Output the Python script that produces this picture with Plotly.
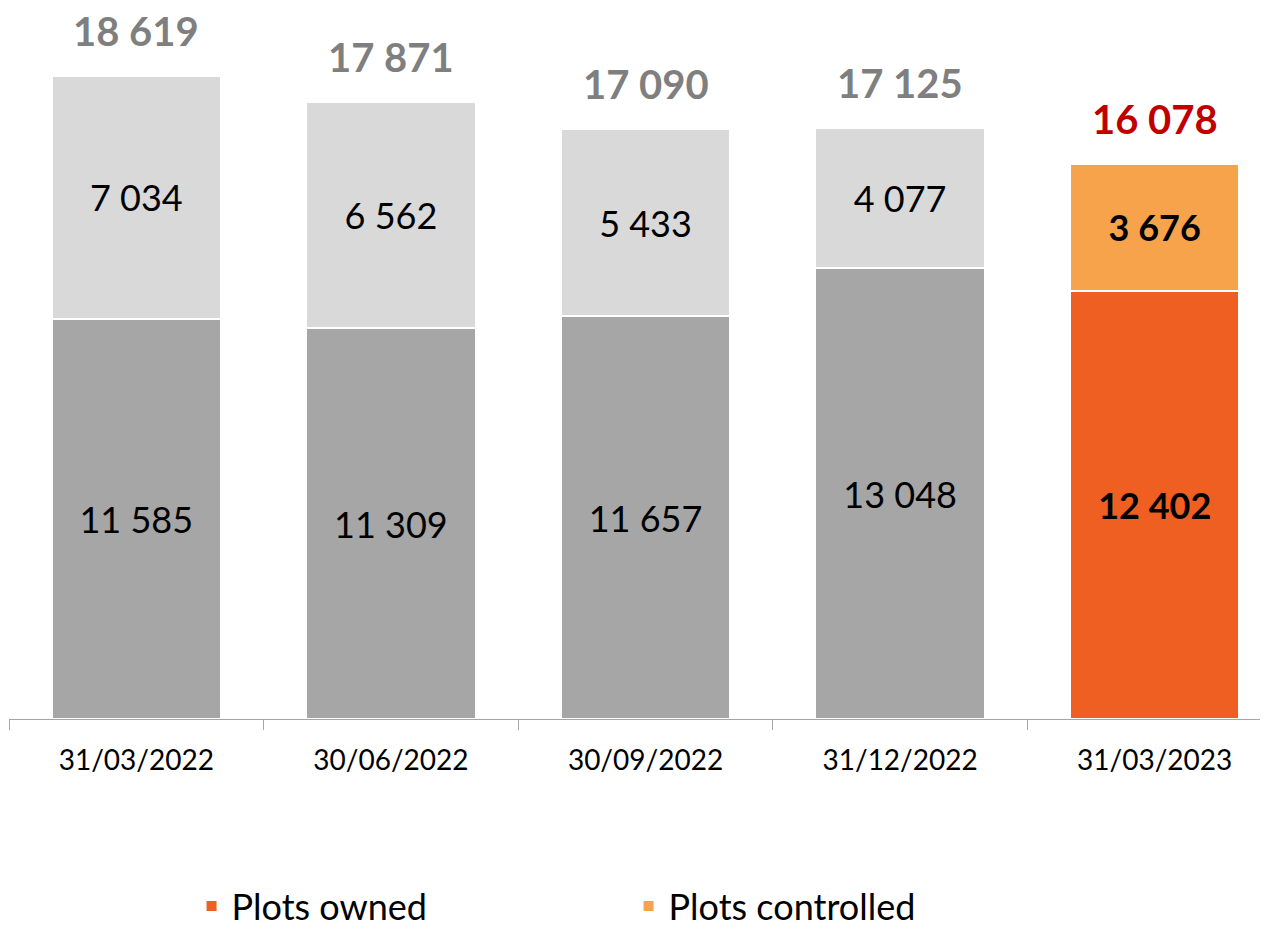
import plotly.graph_objects as go

dates = ["31/03/2022", "30/06/2022", "30/09/2022", "31/12/2022", "31/03/2023"]
plots_owned = [11585, 11309, 11657, 13048, 12402]
plots_controlled = [7034, 6562, 5433, 4077, 3676]
totals = [18619, 17871, 17090, 17125, 16078]

FONT = "Lato"
SEG = 36
BW = 0.665
fig = go.Figure()

# historic quarters in grey
fig.add_trace(go.Bar(x=dates[:4], y=plots_owned[:4], marker=dict(color="#A6A6A6", line=dict(color="white", width=2)),
                     texttemplate="%{y:,}", textposition="inside", insidetextanchor="middle",
                     textfont=dict(size=SEG, color="black", family=FONT), showlegend=False, width=BW))
fig.add_trace(go.Bar(x=dates[:4], y=plots_controlled[:4], marker=dict(color="#D9D9D9", line=dict(color="white", width=2)),
                     texttemplate="%{y:,}", textposition="inside", insidetextanchor="middle",
                     textfont=dict(size=SEG, color="black", family=FONT), showlegend=False, width=BW))
# latest quarter in orange
fig.add_trace(go.Bar(x=dates[4:], y=plots_owned[4:], name="Plots owned",
                     marker=dict(color="#F05F22", line=dict(color="white", width=2)),
                     texttemplate="<b>%{y:,}</b>", textposition="inside", insidetextanchor="middle",
                     textfont=dict(size=SEG, color="black", family=FONT), width=BW))
fig.add_trace(go.Bar(x=dates[4:], y=plots_controlled[4:], name="Plots controlled",
                     marker=dict(color="#F7A34B", line=dict(color="white", width=2)),
                     texttemplate="<b>%{y:,}</b>", textposition="inside", insidetextanchor="middle",
                     textfont=dict(size=SEG, color="black", family=FONT), width=BW))

for i, (d, t) in enumerate(zip(dates, totals)):
    fig.add_annotation(x=d, y=t, text=f"<b>{t:,}</b>".replace(",", " "), showarrow=False,
                       yanchor="middle", yshift=45,
                       font=dict(size=40, family=FONT, color="#C00000" if i == 4 else "#7F7F7F"))

fig.update_layout(
    width=1260, height=920,
    margin=dict(l=1, r=0, t=0, b=209, autoexpand=False),
    barmode="stack",
    separators=". ",
    plot_bgcolor="white", paper_bgcolor="white",
    font=dict(family=FONT, color="black"),
    xaxis=dict(type="category", range=[-0.5, 4.445], showline=True, linecolor="#A6A6A6", linewidth=1,
               ticks="outside", tickson="boundaries", ticklen=10, tickcolor="#A6A6A6",
               ticklabelstandoff=16, automargin=False,
               tickfont=dict(size=28, color="black", family=FONT), showgrid=False),
    yaxis=dict(range=[0, 20588], visible=False, showgrid=False, automargin=False),
    legend=dict(orientation="h", x=0.145, xanchor="left", y=-0.263, yanchor="middle",
                font=dict(size=36, family=FONT, color="black"), entrywidth=392, traceorder="normal"),
)

fig.write_html("out.html")
